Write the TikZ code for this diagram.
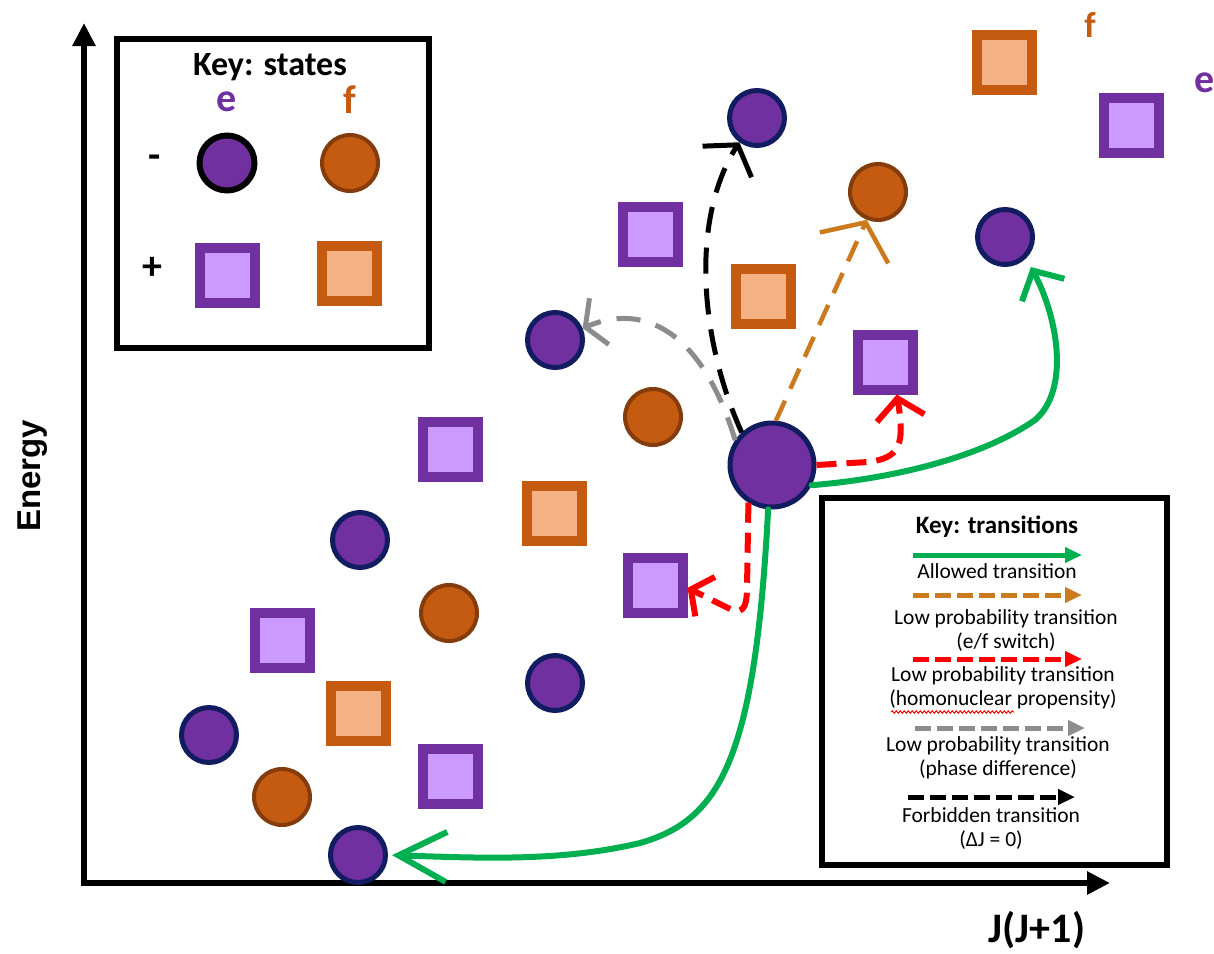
\documentclass[tikz,border=0pt]{standalone}
\usepackage{fontspec}
\setmainfont{Carlito}
\newfontfamily\arialfont{Liberation Sans}
\usetikzlibrary{arrows.meta, decorations.pathmorphing}
\definecolor{epurple}{RGB}{112,48,160}
\definecolor{enavy}{RGB}{18,28,96}
\definecolor{elilac}{RGB}{204,153,255}
\definecolor{forange}{RGB}{197,90,17}
\definecolor{fbrown}{RGB}{132,60,12}
\definecolor{fpeach}{RGB}{244,177,131}
\definecolor{allowgreen}{RGB}{0,176,80}
\definecolor{switchorange}{RGB}{204,122,30}
\definecolor{phasegrey}{RGB}{140,140,140}
\tikzset{
  estate/.style={circle, draw=enavy, fill=epurple, line width=5pt, minimum size=55pt, inner sep=0pt},
  fstate/.style={circle, draw=fbrown, fill=forange, line width=4pt, minimum size=56pt, inner sep=0pt},
  eplus/.style={rectangle, draw=epurple, fill=elilac, line width=10pt, minimum size=55pt, inner sep=0pt},
  fplus/.style={rectangle, draw=forange, fill=fpeach, line width=10pt, minimum size=55pt, inner sep=0pt},
  keybox/.style={draw, line width=6pt},
  bigletter/.style={font=\bfseries\fontsize{40}{46}\selectfont, inner sep=0pt},
  keyhead/.style={font=\bfseries\fontsize{34}{40}\selectfont, inner sep=0pt},
  leghead/.style={font=\bfseries\fontsize{25}{30}\selectfont, inner sep=0pt},
  legtext/.style={font=\fontsize{21.5}{24}\selectfont, align=center, inner sep=0pt},
  axis/.style={line width=6pt, {Triangle[length=23pt,width=22pt]}-{Triangle[length=23pt,width=22pt]}},
  allowed/.style={draw=allowgreen, line width=6pt, line cap=round},
  efswitch/.style={draw=switchorange, line width=4.5pt, dash pattern=on 22pt off 13pt},
  homonuc/.style={draw=red, line width=6pt, dash pattern=on 20pt off 10pt},
  phase/.style={draw=phasegrey, line width=5pt, dash pattern=on 24pt off 16pt},
  forbid/.style={draw=black, line width=5pt, dash pattern=on 26pt off 15pt},
  legarrow/.style={line width=5pt, -{Triangle[length=17pt,width=15pt]}},
  legdash/.style={legarrow, dash pattern=on 16pt off 6pt},
}

\begin{document}
\begin{tikzpicture}[x=1pt, y=-1pt]
  \fill[white] (0,0) rectangle (1214,953);
  \useasboundingbox (0,0) rectangle (1214,953);

  % axes
  \coordinate (o) at (84,883);
  \coordinate (ytip) at (84,23);
  \coordinate (xtip) at (1110,883);
  \draw[axis] (ytip) -- (o) -- (xtip);
  \node[rotate=90, font=\arialfont\bfseries\fontsize{33}{40}\selectfont] (ylab) at (33,476) {Energy};
  \node[font=\bfseries\fontsize{42}{48}\selectfont] (xlab) at (1037,930) {J(J+1)};

  % key: states
  \draw[keybox] (117,39) rectangle (429,348);
  \node[keyhead] (kst) at (270,67) {Key: states};
  \node[bigletter, text=epurple] (ke) at (227,102) {e};
  \node[bigletter, text=forange] (kf) at (350,100) {f};
  \node[bigletter] (kminus) at (155,162) {-};
  \node[bigletter] (kplus) at (152,268) {+};
  \node[estate, draw=black, line width=6pt] (kec) at (227,163) {};
  \node[fstate] (kfc) at (350,163) {};
  \node[eplus] (kes) at (227,275) {};
  \node[fplus] (kfs) at (349,273) {};

  % e states, parity -
  \node[estate] (e1) at (757,118) {};
  \node[estate] (e2) at (555,340) {};
  \node[estate] (e3) at (1005,237) {};
  \node[estate] (e4) at (360,540) {};
  \node[estate] (e5) at (555,683) {};
  \node[estate] (e6) at (209,735) {};
  \node[estate] (e7) at (358,855) {};
  \node[estate, minimum size=84pt] (big) at (772,465) {};
  % f states, parity -
  \node[fstate] (f1) at (878,192) {};
  \node[fstate] (f2) at (653,417) {};
  \node[fstate] (f3) at (449,613) {};
  \node[fstate] (f4) at (282,797) {};
  % e states, parity +
  \node[eplus] (p1) at (650,234) {};
  \node[eplus] (p2) at (885,362) {};
  \node[eplus] (p3) at (450,449) {};
  \node[eplus] (p4) at (282,640) {};
  \node[eplus] (p5) at (450,776) {};
  \node[eplus] (p6) at (655,585) {};
  \node[eplus] (p7) at (1131,125) {};
  % f states, parity +
  \node[fplus] (q1) at (763,296) {};
  \node[fplus] (q2) at (554,513) {};
  \node[fplus] (q3) at (358,713) {};
  \node[fplus] (q4) at (1004,62) {};
  \node[bigletter, text=forange, font=\bfseries\fontsize{36}{40}\selectfont] (tf) at (1090,25) {f};
  \node[bigletter, text=epurple, font=\bfseries\fontsize{40}{44}\selectfont] (te) at (1205,83) {e};

  % transitions
  \draw[allowed, -{Straight Barb[length=48pt,width=50pt]}, shorten >=4pt]
    (big.265) .. controls (755,760) and (720,820) .. (640,843)
    .. controls (560,862) and (480,858) .. (e7.east);
  \draw[allowed, -{Straight Barb[length=22pt,width=48pt]}, shorten >=10pt]
    (big.333) .. controls (900,478) and (985,455) .. (1035,420)
    .. controls (1070,390) and (1058,318) .. (e3.-45);
  \draw[homonuc, -{Straight Barb[length=20pt,width=48pt]}]
    (big.east) -- (868,462) .. controls (900,458) and (905,445) .. (p2.-70);
  \draw[homonuc, -{Straight Barb[length=16pt,width=44pt]}]
    (big.238) -- (747,588) .. controls (747,612) and (740,614) .. (728,608) -- (p6.-5);
  \draw[efswitch, -{Straight Barb[length=28pt,width=75pt]}] (big.85) -- (f1.248);
  \draw[phase, -{Straight Barb[length=15pt,width=50pt]}]
    (big.146) .. controls (705,340) and (650,300) .. (e2.23);
  \draw[forbid, -{Straight Barb[length=20pt,width=58pt]}]
    (big.133) .. controls (700,340) and (690,220) .. (e1.234);

  % key: transitions
  \draw[keybox] (822,498) rectangle (1167,865);
  \node[leghead] (ktr) at (997,527) {Key: transitions};
  \coordinate (g1) at (913,555);
  \coordinate (g2) at (1082,555);
  \draw[legarrow, allowgreen] (g1) -- (g2);
  \node[legtext] (tg) at (997,571) {Allowed transition};
  \coordinate (s1) at (913,595);
  \coordinate (s2) at (1082,595);
  \draw[legdash, switchorange] (s1) -- (s2);
  \node[legtext] (ts) at (1006,631) {Low probability transition\\(e/f switch)};
  \coordinate (h1) at (913,659);
  \coordinate (h2) at (1082,659);
  \draw[legdash, red] (h1) -- (h2);
  \node[legtext] (th) at (1003,688) {Low probability transition\\(homonuclear propensity)};
  \draw[red, line width=1pt, decorate, decoration={snake, amplitude=1.2pt, segment length=4pt}]
    (891,712) -- (1014,712);
  \coordinate (d1) at (915,728);
  \coordinate (d2) at (1085,728);
  \draw[legdash, phasegrey] (d1) -- (d2);
  \node[legtext] (td) at (998,758) {Low probability transition\\(phase difference)};
  \coordinate (b1) at (908,797);
  \coordinate (b2) at (1075,797);
  \draw[legdash, black] (b1) -- (b2);
  \node[legtext] (tb) at (991,829) {Forbidden transition\\(ΔJ = 0)};
\end{tikzpicture}
\end{document}
